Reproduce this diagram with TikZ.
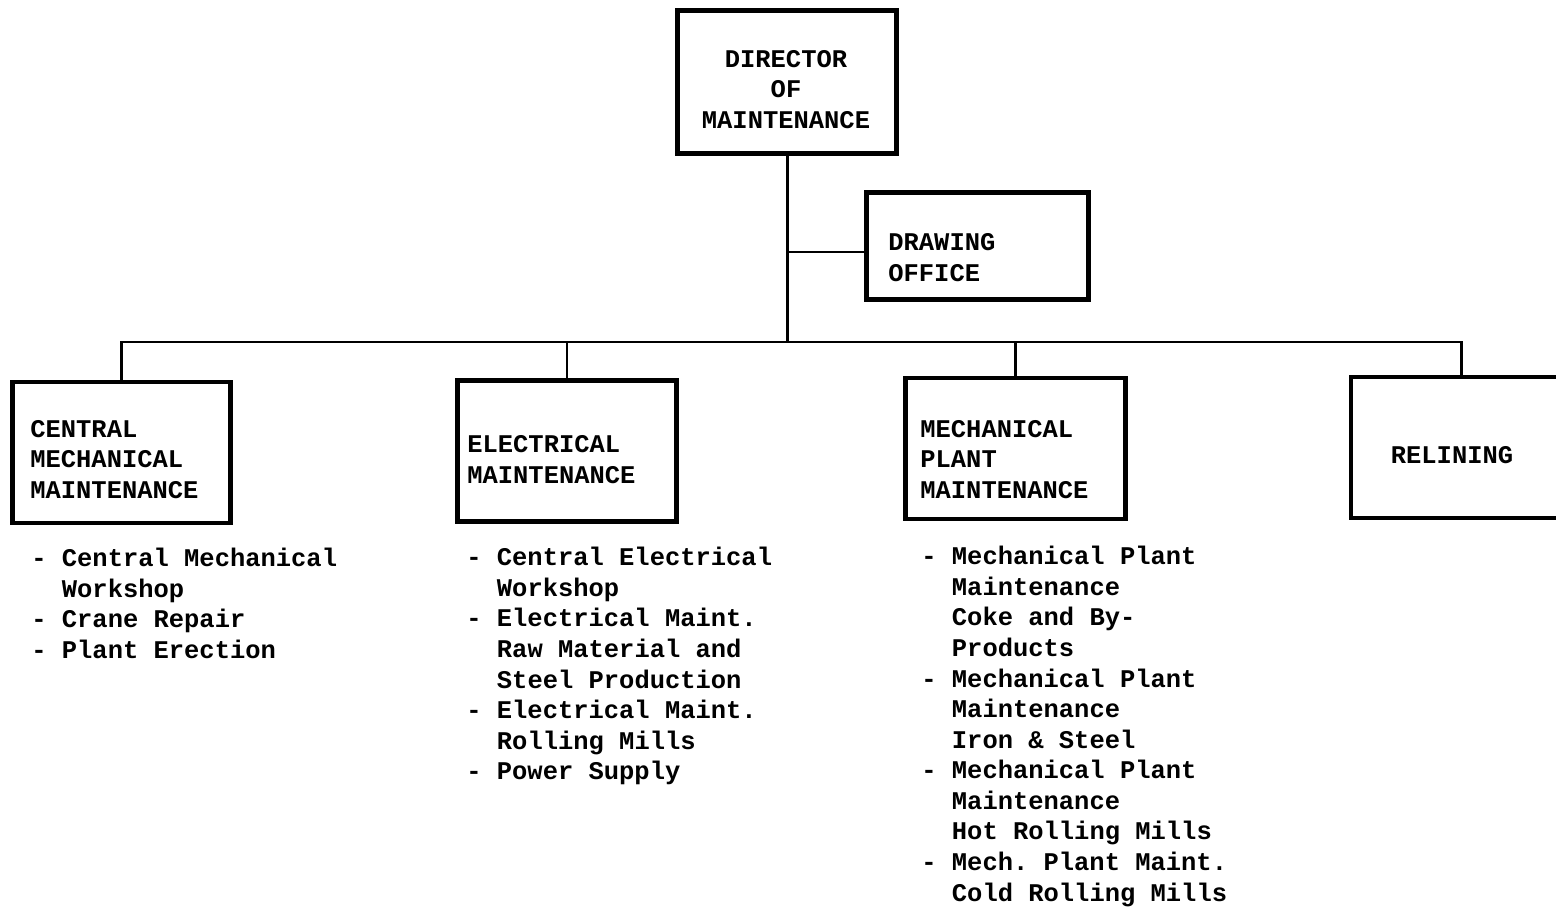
\documentclass[tikz,border=0pt]{standalone}
\usepackage{fontspec}
\setmonofont{Liberation Mono}
\usetikzlibrary{positioning}
\newcommand{\indnt}{\hphantom{- }}

\begin{document}
\begin{tikzpicture}[x=0.02cm, y=-0.02cm,
  unit/.style = {draw, line width=2.7pt, minimum width=4.4cm, minimum height=2.82cm, inner sep=0pt},
  unittext/.style = {font=\ttfamily\bfseries\fontsize{14.5}{17.4}\selectfont, inner sep=0pt, align=left},
  duties/.style = {unittext, anchor=north west},
  link/.style = {line width=1.7pt} ]

\clip (0,0) rectangle (1556,908);

%--- Units ---
% dir
\node[unit, minimum width=4.39cm, minimum height=2.87cm] (dir) at (787, 82) {};
\node[unittext, align=center] (dir_t) at (786, 89.5) {DIRECTOR\\OF\\MAINTENANCE};

% draw_off
\node[unit, minimum width=4.45cm, minimum height=2.13cm] (draw_off) at (977.5, 246) {};
\node[unittext, anchor=west] (draw_off_t) at (888, 257.5) {DRAWING\\OFFICE};

% cmm
\node[unit, minimum width=4.37cm] (cmm) at (121.5, 452.5) {};
\node[unittext, anchor=west] (cmm_t) at (30, 459.5) {CENTRAL\\MECHANICAL\\MAINTENANCE};

% elm
\node[unit, minimum width=4.39cm] (elm) at (567, 451) {};
\node[unittext, anchor=west] (elm_t) at (467, 459.5) {ELECTRICAL\\MAINTENANCE};

% mpm
\node[unit, minimum width=4.41cm] (mpm) at (1015.5, 448.5) {};
\node[unittext, anchor=west] (mpm_t) at (920, 459.5) {MECHANICAL\\PLANT\\MAINTENANCE};

% relin
\node[unit] (relin) at (1461, 447.5) {};
\node[unittext] (relin_t) at (1452, 455) {RELINING};

%--- Duties below the units ---
\node[duties] (cmm_d) at (31, 548) {- Central Mechanical\\ \indnt Workshop\\- Crane Repair\\- Plant Erection};
\node[duties] (elm_d) at (466, 547) {- Central Electrical\\ \indnt Workshop\\- Electrical Maint.\\ \indnt Raw Material and\\ \indnt Steel Production\\- Electrical Maint.\\ \indnt Rolling Mills\\- Power Supply};
\node[duties] (mpm_d) at (921, 546) {- Mechanical Plant\\ \indnt Maintenance\\ \indnt Coke and By-\\ \indnt Products\\- Mechanical Plant\\ \indnt Maintenance\\ \indnt Iron \& Steel\\- Mechanical Plant\\ \indnt Maintenance\\ \indnt Hot Rolling Mills\\- Mech. Plant Maint.\\ \indnt Cold Rolling Mills};

%--- Connectors ---
\coordinate (bus) at (787, 342);
\coordinate (do_branch) at (787, 252);
\draw[link] (dir.south) -- (bus);
\draw[link] (do_branch) -- (do_branch -| draw_off.west);

% bus -> units
\draw[link] (cmm.north) -- (cmm.north |- bus) -- (relin.north |- bus) -- (relin.north);
\draw[link] (elm.north) -- (elm.north |- bus);
\draw[link] (mpm.north) -- (mpm.north |- bus);

\end{tikzpicture}
\end{document}
